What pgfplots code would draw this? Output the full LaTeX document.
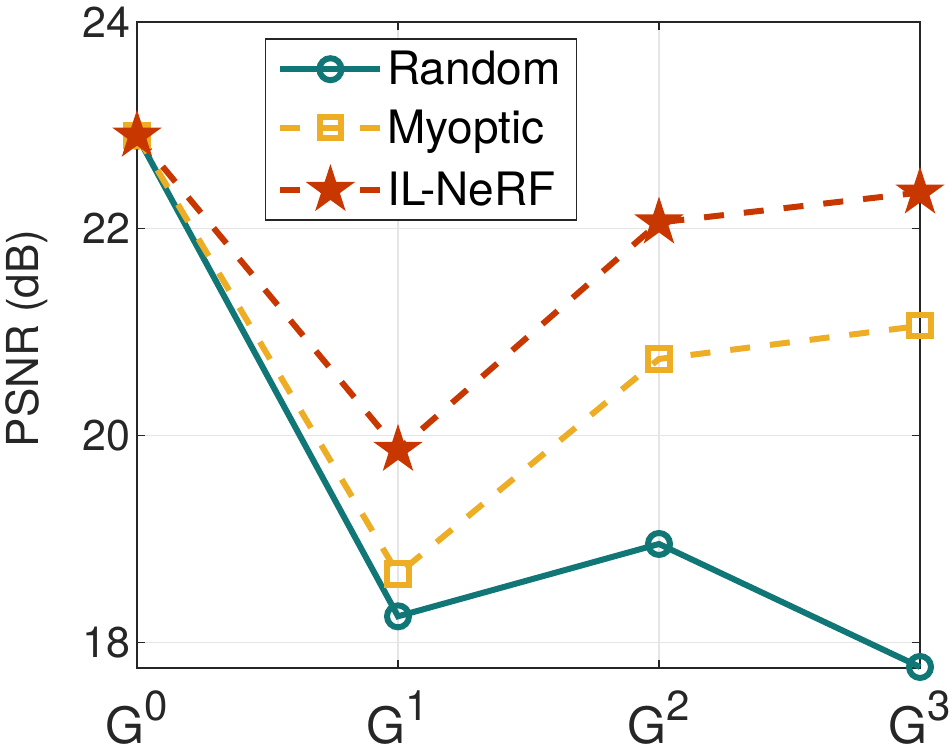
\documentclass[border=0pt]{standalone}
\usepackage{pgfplots}
\pgfplotsset{compat=1.18}
\usepackage{fontspec}
\setmainfont{TeX Gyre Heros}
\definecolor{cteal}{RGB}{16,118,118}
\definecolor{corange}{RGB}{237,174,38}
\definecolor{cred}{RGB}{200,55,0}
\definecolor{axgray}{RGB}{38,38,38}
\pgfdeclareplotmark{pentagram}{%
  \pgfpathmoveto{\pgfqpointpolar{90}{\pgfplotmarksize}}%
  \pgfpathlineto{\pgfqpointpolar{126}{0.382\pgfplotmarksize}}%
  \pgfpathlineto{\pgfqpointpolar{162}{\pgfplotmarksize}}%
  \pgfpathlineto{\pgfqpointpolar{198}{0.382\pgfplotmarksize}}%
  \pgfpathlineto{\pgfqpointpolar{234}{\pgfplotmarksize}}%
  \pgfpathlineto{\pgfqpointpolar{270}{0.382\pgfplotmarksize}}%
  \pgfpathlineto{\pgfqpointpolar{306}{\pgfplotmarksize}}%
  \pgfpathlineto{\pgfqpointpolar{342}{0.382\pgfplotmarksize}}%
  \pgfpathlineto{\pgfqpointpolar{18}{\pgfplotmarksize}}%
  \pgfpathlineto{\pgfqpointpolar{54}{0.382\pgfplotmarksize}}%
  \pgfpathclose
  \pgfusepathqfill}
\newcommand{\Gl}[1]{\fontsize{25}{30}\selectfont G\raisebox{11.5pt}{\fontsize{21}{25}\selectfont #1}}
\begin{document}
\begin{tikzpicture}
\begin{axis}[
  scale only axis,
  width=391.5pt, height=323pt,
  xmin=0, xmax=3, ymin=17.75, ymax=24,
  xtick={0,1,2,3},
  xticklabels={\Gl{0},\Gl{1},\Gl{2},\Gl{3}},
  ytick={18,20,22,24},
  /pgf/number format/assume math mode=true,
  tick align=inside,
  major tick length=4pt,
  tick style={axgray, line width=0.6pt},
  axis line style={axgray, line width=0.8pt},
  grid=major,
  major grid style={gray!20, line width=0.6pt},
  yticklabel style={font=\fontsize{21.5}{25}\selectfont, text=axgray},
  xticklabel style={text=axgray, anchor=north, inner sep=0pt, yshift=-11pt},
  ylabel={PSNR (dB)},
  ylabel style={font=\fontsize{22}{26}\selectfont, text=axgray, at={(axis description cs:-0.141,0.51)}, anchor=center},
  legend style={at={(axis description cs:0.163,0.975)}, anchor=north west,
    font=\fontsize{23}{27}\selectfont, draw=axgray, line width=0.8pt,
    row sep=7pt, inner xsep=6pt, inner ysep=4pt},
  legend cell align=left,
  legend image code/.code={
    \draw[#1] (0pt,0pt) -- (50pt,0pt);
    \draw[#1, solid] plot coordinates {(25pt,0pt)};
  },
  clip=false,
]
\coordinate (sw) at (rel axis cs:0,0);
\coordinate (ne) at (rel axis cs:1,1);
\addplot[cteal, line width=3pt, mark=o, mark size=5.5pt, mark options={solid, line width=3pt}]
  coordinates {(0,22.90) (1,18.25) (2,18.95) (3,17.76)};
\addlegendentry{Random}
\addplot[corange, line width=3pt, dash pattern=on 10pt off 10pt, mark=square, mark size=5.3pt, mark options={solid, line width=3pt}]
  coordinates {(0,22.90) (1,18.66) (2,20.74) (3,21.06)};
\addlegendentry{Myoptic}
\addplot[cred, line width=3pt, dash pattern=on 10pt off 10pt, mark=pentagram, mark size=13pt, mark options={solid}]
  coordinates {(0,22.90) (1,19.86) (2,22.06) (3,22.35)};
\addlegendentry{IL-NeRF}
\end{axis}
\pgfresetboundingbox
\path[use as bounding box] ([shift={(-68.5pt,-41.5pt)}]sw) rectangle ([shift={(16pt,11pt)}]ne);
\end{tikzpicture}
\end{document}
